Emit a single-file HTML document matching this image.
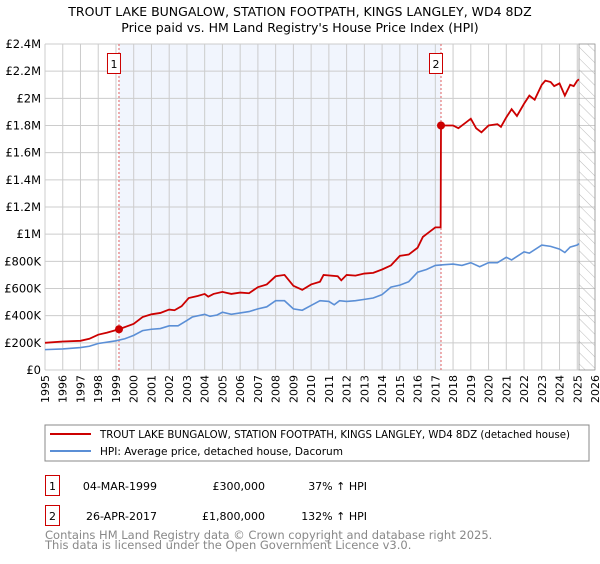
<!DOCTYPE html>
<html><head><meta charset="utf-8"><style>
body{margin:0;width:600px;height:560px;background:#fff;font-family:"DejaVu Sans","Liberation Sans",sans-serif;overflow:hidden}
svg text{font-family:"DejaVu Sans","Liberation Sans",sans-serif}
</style></head><body>
<svg id="chart" width="600" height="560">
<text x="300" y="16" text-anchor="middle" font-size="12.5" fill="#000">TROUT LAKE BUNGALOW, STATION FOOTPATH, KINGS LANGLEY, WD4 8DZ</text>
<text x="300" y="32" text-anchor="middle" font-size="12.5" fill="#000">Price paid vs. HM Land Registry's House Price Index (HPI)</text>
<g id="plot"></g>
<g>
<rect x="45" y="425" width="544" height="36" fill="#fff" stroke="#888"/>
<line x1="50" y1="434" x2="91" y2="434" stroke="#cc0000" stroke-width="2"/>
<text x="100" y="438" font-size="10.5" textLength="470" lengthAdjust="spacingAndGlyphs">TROUT LAKE BUNGALOW, STATION FOOTPATH, KINGS LANGLEY, WD4 8DZ (detached house)</text>
<line x1="50" y1="451" x2="91" y2="451" stroke="#5b8fd6" stroke-width="2"/>
<text x="100" y="455" font-size="10.5" textLength="243" lengthAdjust="spacingAndGlyphs">HPI: Average price, detached house, Dacorum</text>
</g>
<g>
<rect x="45.5" y="475.5" width="14" height="20" fill="#fff" stroke="#cc0000"/>
<text x="52.5" y="490" text-anchor="middle" font-size="11">1</text>
<text x="157" y="490" text-anchor="end" font-size="11">04-MAR-1999</text>
<text x="265" y="490" text-anchor="end" font-size="11">£300,000</text>
<text x="367" y="490" text-anchor="end" font-size="11">37% ↑ HPI</text>
<rect x="45.5" y="505.5" width="14" height="20" fill="#fff" stroke="#cc0000"/>
<text x="52.5" y="520" text-anchor="middle" font-size="11">2</text>
<text x="157" y="520" text-anchor="end" font-size="11">26-APR-2017</text>
<text x="265" y="520" text-anchor="end" font-size="11">£1,800,000</text>
<text x="367" y="520" text-anchor="end" font-size="11">132% ↑ HPI</text>
</g>
<text x="45" y="539" font-size="11.5" fill="#888">Contains HM Land Registry data © Crown copyright and database right 2025.</text>
<text x="45" y="549" font-size="11.5" fill="#888">This data is licensed under the Open Government Licence v3.0.</text>
</svg>
<script>
const redYears=[1995,1996,1997,1997.5,1998,1998.5,1999.17,2000,2000.5,2001,2001.5,2002,2002.3,2002.7,2003.1,2003.6,2004,2004.2,2004.5,2005,2005.5,2006,2006.5,2007,2007.5,2008,2008.5,2009,2009.5,2010,2010.5,2010.7,2011.5,2011.7,2012,2012.5,2013,2013.5,2014,2014.5,2015,2015.5,2016,2016.3,2016.6,2017,2017.3,2017.32,2018,2018.3,2018.7,2019,2019.3,2019.6,2020,2020.5,2020.7,2021,2021.3,2021.6,2022,2022.3,2022.6,2023,2023.2,2023.5,2023.7,2024,2024.3,2024.6,2024.8,2025,2025.1];
const redValues=[200,210,215,230,260,275,300,340,390,410,420,445,440,470,530,545,560,540,560,575,560,570,565,610,630,690,700,620,590,630,650,700,690,660,700,695,710,715,740,770,840,850,900,980,1010,1050,1050,1800,1800,1780,1820,1850,1780,1750,1800,1810,1790,1860,1920,1870,1960,2020,1990,2100,2130,2120,2090,2110,2020,2100,2090,2130,2140];
const hpiYears=[1995,1996,1997,1997.5,1998,1999,1999.5,2000,2000.5,2001,2001.5,2002,2002.5,2003,2003.3,2004,2004.3,2004.7,2005,2005.5,2006,2006.5,2007,2007.5,2008,2008.5,2009,2009.5,2010,2010.5,2011,2011.3,2011.6,2012,2012.5,2013,2013.5,2014,2014.5,2015,2015.5,2016,2016.5,2017,2017.5,2018,2018.5,2019,2019.5,2020,2020.5,2021,2021.3,2022,2022.3,2023,2023.5,2024,2024.3,2024.6,2025,2025.1];
const hpiValues=[150,155,165,175,195,215,230,255,290,300,305,325,325,365,390,410,395,405,425,410,420,430,450,465,510,510,450,440,475,510,505,480,510,505,510,520,530,555,610,625,650,720,740,770,775,780,770,790,760,790,790,830,810,870,860,920,910,890,865,905,920,930];
const yTickValues=[0,200,400,600,800,1000,1200,1400,1600,1800,2000,2200,2400];
const yTickLabels=["£0","£200K","£400K","£600K","£800K","£1M","£1.2M","£1.4M","£1.6M","£1.8M","£2M","£2.2M","£2.4M"];
const xTickYears=[1995,1996,1997,1998,1999,2000,2001,2002,2003,2004,2005,2006,2007,2008,2009,2010,2011,2012,2013,2014,2015,2016,2017,2018,2019,2020,2021,2022,2023,2024,2025,2026];
const saleYears=[1999.17,2017.32];
const saleValues=[300,1800];
const saleLabels=["1","2"];

const NS="http://www.w3.org/2000/svg";
const X0=45,X1=595,Y0=370,Y1=44;
const xs=y=>X0+(y-1995)/(2026-1995)*(X1-X0);
const ys=v=>Y0-v/2400*(Y0-Y1);
const g=document.getElementById('plot');
function mk(t,a){const e=document.createElementNS(NS,t);for(const k in a)e.setAttribute(k,a[k]);g.appendChild(e);return e;}
let e;
e=mk('rect',{x:xs(saleYears[0]),y:Y1,width:xs(saleYears[1])-xs(saleYears[0]),height:Y0-Y1,fill:'#eef3fc',opacity:0.8});


xTickYears.forEach(yr=>{
 e=mk('line',{x1:xs(yr),x2:xs(yr),y1:Y1,y2:Y0,stroke:'#ccc','stroke-width':1});
 
 
 e=mk('text',{x:0,y:0,'font-size':11,'text-anchor':'end',transform:`translate(${xs(yr)+4},375) rotate(-90)`});
 e.textContent=String(yr);
 
 
});
yTickValues.forEach((v,i)=>{
 e=mk('line',{x1:X0,x2:X1,y1:ys(v),y2:ys(v),stroke:'#ccc','stroke-width':1});
 
 
 e=mk('text',{x:X0-4,y:ys(v)+4,'font-size':11.5,'text-anchor':'end'});
 e.textContent=yTickLabels[i];
 
 
});
const defs=document.createElementNS(NS,'defs');
defs.innerHTML='<pattern id="hatch" width="8" height="8" patternUnits="userSpaceOnUse" patternTransform="rotate(-45)"><line x1="0" y1="0" x2="0" y2="8" stroke="#bbb" stroke-width="1"/></pattern>';
g.appendChild(defs);
e=mk('rect',{x:xs(2025.1),y:Y1,width:X1-xs(2025.1),height:Y0-Y1,fill:'url(#hatch)',stroke:'#999','stroke-width':0.8});


saleYears.forEach((yr,i)=>{
 e=mk('line',{x1:xs(yr),x2:xs(yr),y1:Y1,y2:Y0,stroke:'#e06060','stroke-width':1,'stroke-dasharray':'2,2'});
 
 
 e=mk('rect',{x:xs(yr)-11.5,y:53.5,width:13,height:20,fill:'#fff',stroke:'#cc0000'});
 
 
 e=mk('text',{x:xs(yr)-5,y:68,'font-size':11,'text-anchor':'middle'});
 e.textContent=saleLabels[i];
 
 
});
e=mk('polyline',{points:hpiYears.map((y,i)=>xs(y)+','+ys(hpiValues[i])).join(' '),fill:'none',stroke:'#5b8fd6','stroke-width':1.6});


e=mk('polyline',{points:redYears.map((y,i)=>xs(y)+','+ys(redValues[i])).join(' '),fill:'none',stroke:'#cc0000','stroke-width':1.8});


saleYears.forEach((yr,i)=>{
 e=mk('circle',{cx:xs(yr),cy:ys(saleValues[i]),r:4,fill:'#cc0000'});
 
 
});
</script>
</body></html>
